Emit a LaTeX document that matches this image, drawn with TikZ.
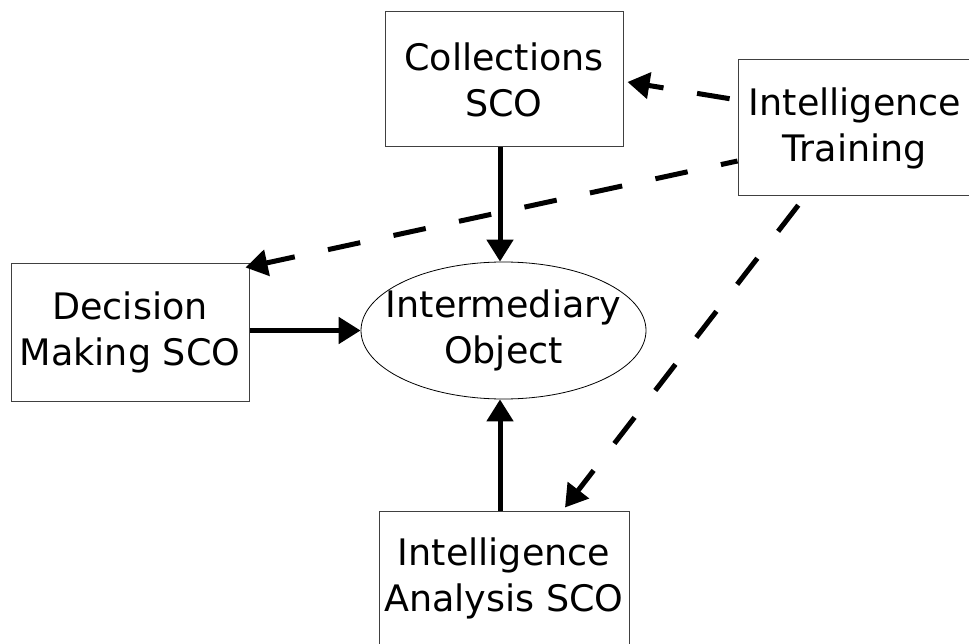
\documentclass[tikz,border=0pt]{standalone}
\usepackage{fontspec}
\setmainfont{DejaVu Sans}
\usetikzlibrary{shapes.geometric,arrows.meta,calc}
\begin{document}
\begin{tikzpicture}[x=1pt,y=-1pt,
  lbl/.style={align=center, inner sep=0pt, font=\fontsize{36.5}{46}\selectfont},
  box/.style={lbl, rectangle, draw=black!75, line width=1pt},
  oval/.style={ellipse, draw=black, line width=0.8pt, inner sep=0pt},
  solidarrow/.style={line width=5pt, -{Triangle[length=22pt,width=26pt]}},
  dasharrow/.style={line width=5pt, dash pattern=on 33pt off 34pt, -{Triangle[length=22pt,width=26pt]}}]
\useasboundingbox (0,0) rectangle (969,644);
\clip (0,0) rectangle (969,644);
\fill[white] (0,0) rectangle (969,644);
\node[box, minimum width=238pt, minimum height=135pt] (coll) at (504,79.5) {Collections\\SCO};
\node[box, minimum width=234pt, minimum height=136pt] (tr) at (855,128) {Intelligence\\Training};
\node[box, minimum width=238pt, minimum height=137pt] (dec) at (130,332.5) {Decision\\Making SCO};
\node[box, minimum width=250pt, minimum height=134pt] (an) at (504,578) {Intelligence\\Analysis SCO};
\node[oval, minimum width=285pt, minimum height=137pt] (io) at (503.5,330.5) {};
\node[lbl] (iotext) at (io.center) {Intermediary\\Object};
\draw[solidarrow] ($(coll.south)+(-4,0)$) -- ($(io.north)+(-3.5,0)$);
\draw[solidarrow] (dec.east |- io.west) -- (io.west);
\draw[solidarrow] ($(an.north)+(-4,0)$) -- ($(io.south)+(-3.5,0)$);
\draw[dasharrow, dash phase=59pt] ($(tr.west)+(0,-28)$) -- ($(coll.east)+(4,2.5)$);
\draw[dasharrow, dash phase=16pt] ($(tr.west)+(0,33)$) -- ($(dec.north east)+(-4,4)$);
\draw[dasharrow, dash phase=56pt] ($(tr.south)+(-50,0)$) -- ($(an.north)+(61,-3)$);
\end{tikzpicture}
\end{document}
